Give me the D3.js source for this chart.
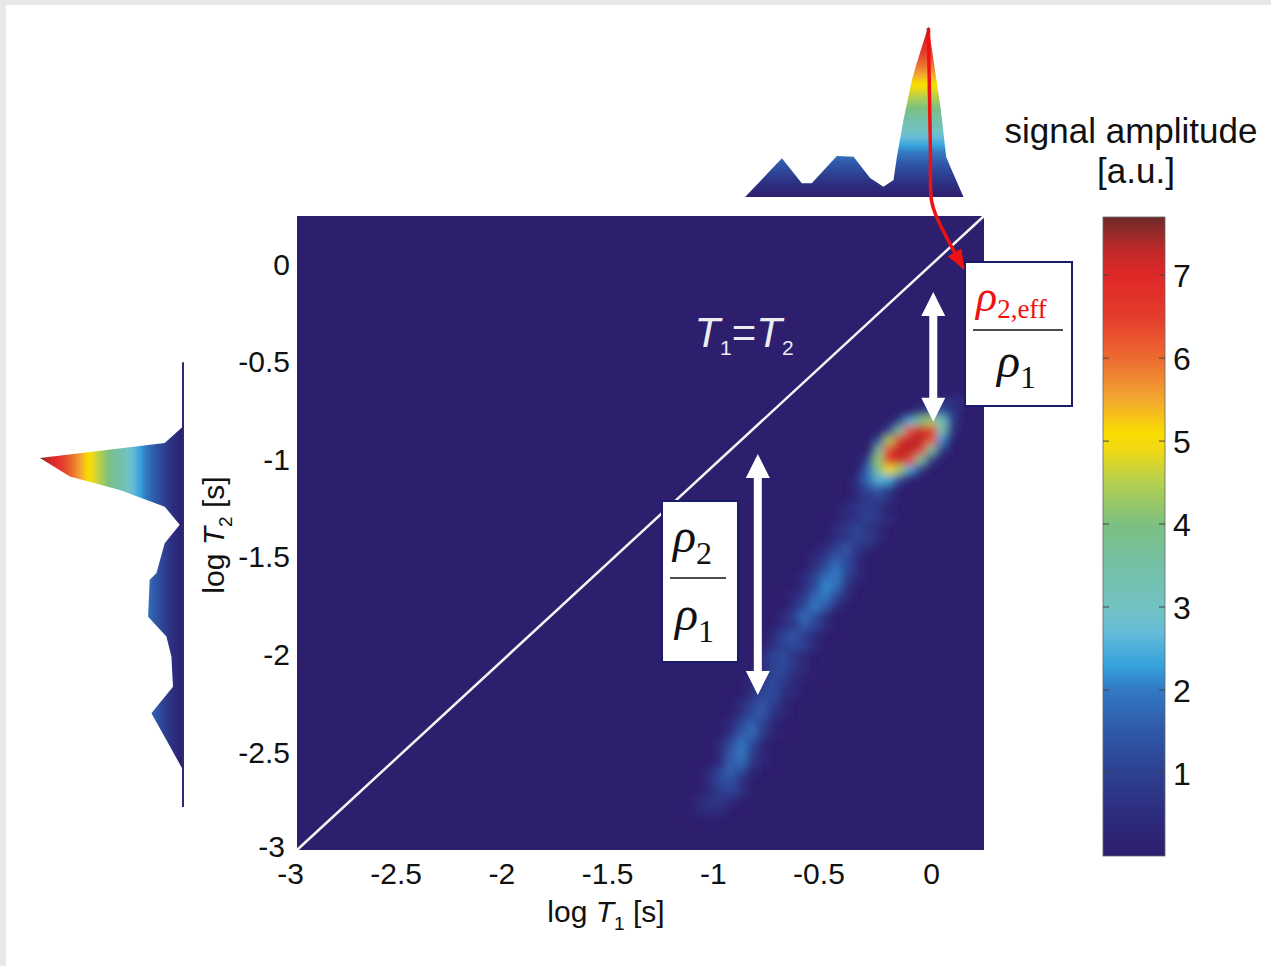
<!DOCTYPE html>
<html>
<head>
<meta charset="utf-8">
<script src="https://cdn.jsdelivr.net/npm/d3@7"></script>
<style>
  body { margin: 0; background: #fff; }
  svg { display: block; font-family: "Liberation Sans", Arial, sans-serif; }
</style>
</head>
<body>
<svg id="chart"></svg>
<script>
// ---- data ----
const t1Ticks = [-3, -2.5, -2, -1.5, -1, -0.5, 0];
const t2Ticks = [0, -0.5, -1, -1.5, -2, -2.5, -3];
const ampTicks = [1, 2, 3, 4, 5, 6, 7];

// jet-like colormap of the figure: [amplitude, colour]
const colorStops = [
  [0.0, '#2e1e6e'], [0.5, '#2d2c7e'], [1.0, '#2e4090'], [1.5, '#3058a8'],
  [2.0, '#3279c2'], [2.3, '#36a2dc'], [2.7, '#66bcd8'], [3.0, '#72c2c2'],
  [3.5, '#74c0a6'], [4.0, '#7cc080'], [4.5, '#b4d050'], [4.9, '#f0da14'],
  [5.1, '#f8dc00'], [5.5, '#f4a830'], [6.0, '#ec6a30'], [6.5, '#e43c2c'],
  [7.0, '#df2828'], [7.3, '#c02828'], [7.7, '#6e2a2a']
];

// 2D T1-T2 map, cells on a 0.05 grid: [log T2, first log T1, amplitudes...]
const cellStep = 0.05;
const cellRows = [
  [-0.70,  0.05, [0.4, 0.6, 0.4]],
  [-0.75, -0.05, [0.6, 1.2, 1.4, 0.7]],
  [-0.80, -0.15, [0.8, 2.6, 4.0, 4.4, 3.0, 0.9]],
  [-0.85, -0.20, [1.0, 3.6, 6.4, 7.2, 6.8, 3.4, 0.6]],
  [-0.90, -0.25, [1.2, 4.4, 7.0, 7.3, 7.3, 6.2, 2.2]],
  [-0.95, -0.25, [3.6, 6.6, 7.3, 7.3, 6.6, 3.6, 0.8]],
  [-1.00, -0.30, [1.0, 4.2, 6.6, 7.2, 6.4, 3.6, 0.8]],
  [-1.05, -0.30, [1.8, 4.0, 5.0, 4.4, 2.4, 0.6]],
  [-1.10, -0.35, [0.6, 1.8, 2.6, 2.4, 1.2]],
  [-1.15, -0.35, [0.5, 1.2, 1.5, 0.9]],
  [-1.20, -0.35, [0.5, 0.8, 1.0, 0.6]],
  [-1.25, -0.40, [0.5, 0.8, 1.0, 0.6]],
  [-1.30, -0.40, [0.5, 0.6, 1.0, 0.8, 0.4]],
  [-1.35, -0.45, [0.5, 0.8, 1.1, 0.7, 0.4]],
  [-1.40, -0.45, [0.5, 0.7, 1.1, 0.9, 0.4]],
  [-1.45, -0.50, [0.5, 0.9, 1.4, 0.8, 0.4]],
  [-1.50, -0.55, [0.5, 0.8, 1.5, 1.3, 0.5]],
  [-1.55, -0.55, [0.6, 1.2, 1.9, 1.2, 0.5]],
  [-1.60, -0.60, [0.5, 1.0, 1.8, 2.0, 1.0, 0.4]],
  [-1.65, -0.60, [0.5, 1.2, 2.1, 1.8, 0.6]],
  [-1.70, -0.65, [0.5, 0.8, 1.7, 2.0, 1.2, 0.4]],
  [-1.75, -0.65, [0.5, 1.2, 2.0, 1.5, 0.5]],
  [-1.80, -0.70, [0.5, 1.0, 1.8, 1.3, 0.5]],
  [-1.85, -0.70, [0.5, 0.8, 1.5, 1.1, 0.4]],
  [-1.90, -0.75, [0.5, 1.1, 1.4, 0.8, 0.4]],
  [-1.95, -0.75, [0.5, 1.0, 1.3, 1.0, 0.4]],
  [-2.00, -0.80, [0.5, 1.1, 1.2, 0.6, 0.3]],
  [-2.05, -0.80, [0.5, 1.0, 1.2, 0.8, 0.3]],
  [-2.10, -0.80, [0.5, 1.1, 1.1, 0.5, 0.3]],
  [-2.15, -0.85, [0.5, 1.0, 1.2, 0.8, 0.3]],
  [-2.20, -0.85, [0.5, 1.1, 1.3, 0.6, 0.3]],
  [-2.25, -0.90, [0.5, 1.0, 1.4, 1.0, 0.3]],
  [-2.30, -0.90, [0.5, 1.2, 1.5, 0.7, 0.3]],
  [-2.35, -0.95, [0.5, 1.1, 1.6, 1.1, 0.3]],
  [-2.40, -0.95, [0.5, 1.4, 1.8, 0.9, 0.3]],
  [-2.45, -1.00, [0.5, 1.1, 1.9, 1.3, 0.3]],
  [-2.50, -1.00, [0.5, 1.4, 2.0, 1.0, 0.3]],
  [-2.55, -1.00, [0.5, 1.6, 1.8, 0.8, 0.3]],
  [-2.60, -1.05, [0.5, 1.1, 1.6, 1.1, 0.3]],
  [-2.65, -1.05, [0.5, 1.2, 1.3, 0.6]],
  [-2.70, -1.05, [0.4, 0.8, 1.1, 0.7]],
  [-2.75, -1.10, [0.4, 0.7, 0.7, 0.4]],
  [-2.80, -1.10, [0.3, 0.5, 0.5]]
];

// T1 projection (top), normalised amplitude
const topT1  = [-0.880, -0.706, -0.612, -0.565, -0.446, -0.367, -0.289, -0.226, -0.178, -0.162,
                -0.131, -0.091, -0.068, -0.013, 0.011, 0.046, 0.071, 0.090, 0.153];
const topAmp = [0, 0.226, 0.080, 0.080, 0.240, 0.236, 0.111, 0.060, 0.099, 0.236,
                0.450, 0.684, 0.784, 1.0, 0.801, 0.509, 0.236, 0.178, 0];

// T2 projection (left), normalised amplitude
const leftT2  = [-0.829, -0.914, -0.991, -1.086, -1.154, -1.240, -1.333, -1.427, -1.581,
                 -1.615, -1.804, -1.906, -2.009, -2.163, -2.299, -2.436, -2.590];
const leftAmp = [0, 0.128, 1.0, 0.791, 0.442, 0.128, 0.023, 0.128, 0.186,
                 0.233, 0.244, 0.116, 0.081, 0.070, 0.221, 0.116, 0];

// ---- layout ----
const W = 1271, H = 966;
const ampMax = 7.7;

const svg = d3.select('#chart')
  .attr('width', W)
  .attr('height', H);

const defs = svg.append('defs');

const x = d3.scaleLinear().domain([-3, 0.25]).range([297, 984]);
const y = d3.scaleLinear().domain([-3, 0.25]).range([850, 216]);
const color = d3.scaleLinear()
  .domain(colorStops.map(d => d[0]))
  .range(colorStops.map(d => d[1]))
  .interpolate(d3.interpolateRgb)
  .clamp(true);
const cbY = d3.scaleLinear().domain([0, ampMax]).range([856, 217]);
const topY = d3.scaleLinear().domain([0, 1]).range([197, 26]);
const leftX = d3.scaleLinear().domain([0, 1]).range([183, 40]);

// light grey frame of the original slide
svg.append('rect').attr('x', 0).attr('y', 0).attr('width', W).attr('height', 5).attr('fill', '#e8e8e8');
svg.append('rect').attr('x', 0).attr('y', 0).attr('width', 6).attr('height', H).attr('fill', '#e8e8e8');

// gradients
function addStops(grad) {
  grad.selectAll('stop')
    .data(colorStops)
    .join('stop')
      .attr('offset', d => d[0] / ampMax)
      .attr('stop-color', d => d[1]);
}
addStops(defs.append('linearGradient').attr('id', 'cbGrad')
  .attr('x1', 0).attr('y1', 1).attr('x2', 0).attr('y2', 0));
addStops(defs.append('linearGradient').attr('id', 'topGrad')
  .attr('gradientUnits', 'userSpaceOnUse')
  .attr('x1', 0).attr('y1', topY(0)).attr('x2', 0).attr('y2', topY(1)));
addStops(defs.append('linearGradient').attr('id', 'leftGrad')
  .attr('gradientUnits', 'userSpaceOnUse')
  .attr('x1', leftX(0)).attr('y1', 0).attr('x2', leftX(1)).attr('y2', 0));

defs.append('clipPath').attr('id', 'plotClip')
  .append('rect')
    .attr('x', x(-3)).attr('y', y(0.25))
    .attr('width', x(0.25) - x(-3)).attr('height', y(-3) - y(0.25));

defs.append('filter').attr('id', 'soft')
    .attr('x', '-20%').attr('y', '-20%').attr('width', '140%').attr('height', '140%')
  .append('feGaussianBlur').attr('stdDeviation', 4.5);

// ---- T1-T2 map ----
svg.append('rect')
  .attr('x', x(-3)).attr('y', y(0.25))
  .attr('width', x(0.25) - x(-3)).attr('height', y(-3) - y(0.25))
  .attr('fill', color(0));

const cells = cellRows.flatMap(([t2, t1s, vals]) =>
  vals.map((v, i) => ({ t1: t1s + i * cellStep, t2: t2, v: v })));

const cw = x(cellStep) - x(0);
const ch = y(0) - y(cellStep);

svg.append('g')
  .attr('clip-path', 'url(#plotClip)')
  .append('g')
  .attr('filter', 'url(#soft)')
  .selectAll('rect')
  .data(cells)
  .join('rect')
    .attr('x', d => x(d.t1) - cw / 2)
    .attr('y', d => y(d.t2) - ch / 2)
    .attr('width', cw + 0.5)
    .attr('height', ch + 0.5)
    .attr('fill', d => color(d.v));

// T1 = T2 line
svg.append('line')
  .attr('x1', x(-3)).attr('y1', y(-3))
  .attr('x2', x(0.25)).attr('y2', y(0.25))
  .attr('stroke', '#f4f4f4')
  .attr('stroke-width', 2.5);

const eq = svg.append('text')
  .attr('x', x(-1.12)).attr('y', y(-0.42))
  .attr('font-size', 42)
  .attr('fill', '#ececf2');
eq.append('tspan').attr('font-style', 'italic').text('T');
eq.append('tspan').attr('font-size', 21).attr('dy', 8).text('1');
eq.append('tspan').attr('dy', -8).text('=');
eq.append('tspan').attr('font-style', 'italic').text('T');
eq.append('tspan').attr('font-size', 21).attr('dy', 8).text('2');

// ---- axes ----
const xAxis = svg.append('g')
  .attr('transform', `translate(0, ${y(-3)})`)
  .call(d3.axisBottom(x).tickValues(t1Ticks).tickSize(0).tickPadding(13).tickFormat(d => String(d)));
const yAxis = svg.append('g')
  .attr('transform', `translate(${x(-3)}, 0)`)
  .call(d3.axisLeft(y).tickValues(t2Ticks).tickSize(0).tickPadding(7).tickFormat(d => String(d)));

[xAxis, yAxis].forEach(a => {
  a.select('.domain').remove();
  a.selectAll('text')
    .attr('font-size', 30)
    .attr('font-family', '"Liberation Sans", Arial, sans-serif')
    .attr('fill', '#111');
});
xAxis.selectAll('text').attr('dx', d => d < 0 ? -7 : 0);
yAxis.selectAll('text').filter(d => d === -3).attr('dy', '0.2em').attr('dx', -5);

const xLabel = svg.append('text')
  .attr('x', 606).attr('y', 922)
  .attr('text-anchor', 'middle')
  .attr('font-size', 30)
  .attr('fill', '#111');
xLabel.append('tspan').text('log ');
xLabel.append('tspan').attr('font-style', 'italic').text('T');
xLabel.append('tspan').attr('font-size', 19).attr('dy', 8).text('1');
xLabel.append('tspan').attr('dy', -8).text(' [s]');

const yLabel = svg.append('text')
  .attr('transform', 'translate(224, 535) rotate(-90)')
  .attr('text-anchor', 'middle')
  .attr('font-size', 30)
  .attr('fill', '#111');
yLabel.append('tspan').text('log ');
yLabel.append('tspan').attr('font-style', 'italic').text('T');
yLabel.append('tspan').attr('font-size', 19).attr('dy', 8).text('2');
yLabel.append('tspan').attr('dy', -8).text(' [s]');

// ---- projections ----
const topArea = d3.area()
  .x((d, i) => x(topT1[i]))
  .y0(topY(0))
  .y1(d => topY(d));
svg.append('path')
  .attr('d', topArea(topAmp))
  .attr('fill', 'url(#topGrad)');

const leftArea = d3.area()
  .y((d, i) => y(leftT2[i]))
  .x0(leftX(0))
  .x1(d => leftX(d));
svg.append('path')
  .attr('d', leftArea(leftAmp))
  .attr('fill', 'url(#leftGrad)');
svg.append('line')
  .attr('x1', leftX(0)).attr('x2', leftX(0))
  .attr('y1', y(-0.5)).attr('y2', y(-2.78))
  .attr('stroke', '#2e2a78')
  .attr('stroke-width', 2);

// ---- colour bar ----
const cbX = 1103, cbW = 62;
svg.append('rect')
  .attr('x', cbX).attr('y', cbY(ampMax))
  .attr('width', cbW).attr('height', cbY(0) - cbY(ampMax))
  .attr('fill', 'url(#cbGrad)')
  .attr('stroke', '#666')
  .attr('stroke-width', 0.8);

const cbTicks = svg.append('g');
cbTicks.selectAll('line.l')
  .data(ampTicks)
  .join('line')
    .attr('class', 'l')
    .attr('x1', cbX).attr('x2', cbX + 6)
    .attr('y1', d => cbY(d)).attr('y2', d => cbY(d))
    .attr('stroke', '#444').attr('stroke-width', 1);
cbTicks.selectAll('line.r')
  .data(ampTicks)
  .join('line')
    .attr('class', 'r')
    .attr('x1', cbX + cbW - 6).attr('x2', cbX + cbW)
    .attr('y1', d => cbY(d)).attr('y2', d => cbY(d))
    .attr('stroke', '#444').attr('stroke-width', 1);
cbTicks.selectAll('text')
  .data(ampTicks)
  .join('text')
    .attr('x', cbX + cbW + 8)
    .attr('y', d => cbY(d))
    .attr('dy', '0.36em')
    .attr('font-size', 32)
    .attr('fill', '#111')
    .text(d => d);

svg.append('text')
  .attr('x', 1131).attr('y', 143)
  .attr('text-anchor', 'middle')
  .attr('font-size', 35)
  .attr('fill', '#111')
  .text('signal amplitude');
svg.append('text')
  .attr('x', 1136).attr('y', 183)
  .attr('text-anchor', 'middle')
  .attr('font-size', 35)
  .attr('fill', '#111')
  .text('[a.u.]');

// ---- annotations ----
function doubleArrow(cx, yTop, yBot) {
  const hw = 12, sw = 4, hl = 24;
  const pts = [
    [cx, yTop], [cx + hw, yTop + hl], [cx + sw, yTop + hl], [cx + sw, yBot - hl],
    [cx + hw, yBot - hl], [cx, yBot], [cx - hw, yBot - hl], [cx - sw, yBot - hl],
    [cx - sw, yTop + hl], [cx - hw, yTop + hl]
  ];
  svg.append('polygon')
    .attr('points', pts.map(p => p.join(',')).join(' '))
    .attr('fill', '#fff');
}
doubleArrow(x(0.01), y(-0.14), y(-0.805));
doubleArrow(x(-0.82), y(-0.97), y(-2.205));

const serif = '"Liberation Serif", "Times New Roman", serif';

// right box: rho_2,eff / rho_1
svg.append('rect')
  .attr('x', 965).attr('y', 262).attr('width', 107).attr('height', 144)
  .attr('fill', '#fff').attr('stroke', '#1c1c6c').attr('stroke-width', 2);
const numR = svg.append('text')
  .attr('x', 976).attr('y', 311)
  .attr('font-family', serif)
  .attr('fill', '#ee1111');
numR.append('tspan').attr('font-size', 44).attr('font-style', 'italic').text('ρ');
numR.append('tspan').attr('font-size', 27).attr('dy', 7).text('2,eff');
svg.append('line')
  .attr('x1', 973).attr('x2', 1063).attr('y1', 330).attr('y2', 330)
  .attr('stroke', '#111').attr('stroke-width', 1.5);
const denR = svg.append('text')
  .attr('x', 997).attr('y', 377)
  .attr('font-family', serif)
  .attr('fill', '#111');
denR.append('tspan').attr('font-size', 48).attr('font-style', 'italic').text('ρ');
denR.append('tspan').attr('font-size', 32).attr('dy', 11).text('1');

// left box: rho_2 / rho_1
svg.append('rect')
  .attr('x', 662).attr('y', 501).attr('width', 76).attr('height', 161)
  .attr('fill', '#fff').attr('stroke', '#1c1c6c').attr('stroke-width', 2);
const numL = svg.append('text')
  .attr('x', 673).attr('y', 552)
  .attr('font-family', serif)
  .attr('fill', '#111');
numL.append('tspan').attr('font-size', 48).attr('font-style', 'italic').text('ρ');
numL.append('tspan').attr('font-size', 32).attr('dy', 12).text('2');
svg.append('line')
  .attr('x1', 670).attr('x2', 726).attr('y1', 578).attr('y2', 578)
  .attr('stroke', '#111').attr('stroke-width', 1.5);
const denL = svg.append('text')
  .attr('x', 675).attr('y', 630)
  .attr('font-family', serif)
  .attr('fill', '#111');
denL.append('tspan').attr('font-size', 48).attr('font-style', 'italic').text('ρ');
denL.append('tspan').attr('font-size', 32).attr('dy', 12).text('1');

// red arrow from the T1 projection peak to the box
defs.append('marker')
    .attr('id', 'redHead')
    .attr('viewBox', '0 0 20 16')
    .attr('refX', 18).attr('refY', 8)
    .attr('markerUnits', 'userSpaceOnUse')
    .attr('markerWidth', 20).attr('markerHeight', 16)
    .attr('orient', 'auto')
  .append('path')
    .attr('d', 'M0,0 L20,8 L0,16 Z')
    .attr('fill', '#ee1111');

const peakI = topAmp.indexOf(d3.max(topAmp));
const px0 = x(topT1[peakI]), py0 = topY(1);
svg.append('path')
  .attr('d', d3.line().curve(d3.curveCatmullRom)([
    [px0, py0 + 2], [px0 + 2, 150], [px0 + 3, 200], [px0 + 7, 214], [px0 + 18, 237], [px0 + 35, 268]
  ]))
  .attr('fill', 'none')
  .attr('stroke', '#ee1111')
  .attr('stroke-width', 3.5)
  .attr('marker-end', 'url(#redHead)');
</script>
</body>
</html>
